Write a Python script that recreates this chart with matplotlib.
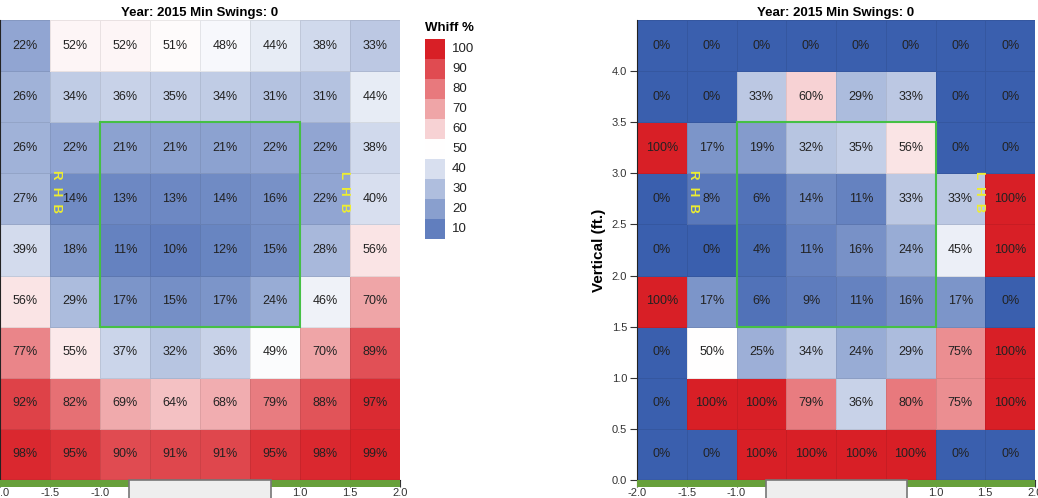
import numpy as np
import matplotlib
matplotlib.use('Agg')
import matplotlib.pyplot as plt
from matplotlib.colors import LinearSegmentedColormap
from matplotlib.patches import Rectangle

plt.rcParams['font.family'] = ['Liberation Sans', 'DejaVu Sans']

# whiff % by zone, rows from top (4.5 ft) to bottom (0 ft), columns from -2 to 2 ft
left_vals = [
    [22, 52, 52, 51, 48, 44, 38, 33],
    [26, 34, 36, 35, 34, 31, 31, 44],
    [26, 22, 21, 21, 21, 22, 22, 38],
    [27, 14, 13, 13, 14, 16, 22, 40],
    [39, 18, 11, 10, 12, 15, 28, 56],
    [56, 29, 17, 15, 17, 24, 46, 70],
    [77, 55, 37, 32, 36, 49, 70, 89],
    [92, 82, 69, 64, 68, 79, 88, 97],
    [98, 95, 90, 91, 91, 95, 98, 99],
]
right_vals = [
    [0, 0, 0, 0, 0, 0, 0, 0],
    [0, 0, 33, 60, 29, 33, 0, 0],
    [100, 17, 19, 32, 35, 56, 0, 0],
    [0, 8, 6, 14, 11, 33, 33, 100],
    [0, 0, 4, 11, 16, 24, 45, 100],
    [100, 17, 6, 9, 11, 16, 17, 0],
    [0, 50, 25, 34, 24, 29, 75, 100],
    [0, 100, 100, 79, 36, 80, 75, 100],
    [0, 0, 100, 100, 100, 100, 0, 0],
]
legend_levels = [100, 90, 80, 70, 60, 50, 40, 30, 20, 10]
title = 'Year: 2015 Min Swings: 0'

cmap = LinearSegmentedColormap.from_list('whiff', ['#3a5fae', '#ffffff', '#d81f26'])
x_edges = np.arange(-2.0, 2.01, 0.5)
y_edges = np.arange(0.0, 4.51, 0.5)

W, H = 1038, 498
fig = plt.figure(figsize=(W / 100, H / 100), dpi=100)


def px_axes(x0, x1, y0, y1):
    return fig.add_axes([x0 / W, 1 - y1 / H, (x1 - x0) / W, (y1 - y0) / H])


def draw_zone(ax, vals):
    z = np.array(vals, dtype=float)[::-1]
    ax.pcolormesh(x_edges, y_edges, z, cmap=cmap, vmin=0, vmax=100,
                  edgecolors=(0, 0, 0, 0.08), linewidth=0.6)
    xc = (x_edges[:-1] + x_edges[1:]) / 2
    yc = (y_edges[:-1] + y_edges[1:]) / 2
    for i, y in enumerate(yc):
        for j, x in enumerate(xc):
            ax.text(x, y, f'{int(z[i, j])}%', ha='center', va='center',
                    fontsize=9, color='#222222')
    # strike zone
    ax.add_patch(Rectangle((-1.0, 1.5), 2.0, 2.0, fill=False,
                           edgecolor='#45c045', linewidth=1.5, zorder=4))
    # batter boxes
    for xp, lab in [(-1.44, 'R  H  B'), (1.44, 'L  H  B')]:
        ax.text(xp, 2.82, lab, rotation=270, ha='center', va='center',
                fontsize=9.5, fontweight='bold', color='#eeee30', zorder=5)
    # ground strip and plate
    ax.add_patch(Rectangle((-2.0, -0.065), 4.0, 0.065, facecolor='#67a03a',
                           edgecolor='none', clip_on=False, zorder=3))
    ax.add_patch(Rectangle((-0.708, -0.6), 1.417, 0.6, facecolor='#eeeeee',
                           edgecolor='#777777', linewidth=1.2, clip_on=False,
                           zorder=6))
    ax.set_xlim(-2, 2)
    ax.set_ylim(0, 4.5)
    ax.set_xticks(np.arange(-2.0, 2.01, 0.5))
    ax.set_xticklabels([f'{v:.1f}' for v in np.arange(-2.0, 2.01, 0.5)])
    ax.set_yticks(np.arange(0.0, 4.01, 0.5))
    ax.set_yticklabels([f'{v:.1f}' for v in np.arange(0.0, 4.01, 0.5)])
    ax.tick_params(labelsize=8, colors='#333333', length=5, pad=2)
    ax.tick_params(axis='x', pad=1)
    for s in ['top', 'right']:
        ax.spines[s].set_visible(False)
    ax.spines['left'].set_color('#222222')
    ax.spines['bottom'].set_color('#222222')
    ax.set_title(title, fontsize=9.5, fontweight='bold', pad=3)


ax1 = px_axes(0, 400, 20, 480)
draw_zone(ax1, left_vals)
ax1.tick_params(axis='y', left=False, labelleft=False)

ax2 = px_axes(637, 1035, 20, 480)
draw_zone(ax2, right_vals)
ax2.set_ylabel('Vertical (ft.)', fontsize=11, fontweight='bold', labelpad=4)

# legend
fig.text(425 / W, 1 - 28 / H, 'Whiff %', fontsize=9.5, fontweight='bold',
         ha='left', va='center')
for k, lev in enumerate(legend_levels):
    y_top = 39 + k * 20
    fig.patches.append(Rectangle((425 / W, 1 - (y_top + 20) / H), 20 / W, 20 / H,
                                 transform=fig.transFigure,
                                 facecolor=cmap(lev / 100), edgecolor='none'))
    fig.text(452 / W, 1 - (y_top + 10) / H, str(lev), fontsize=9.5,
             ha='left', va='center', color='#222222')

fig.savefig('out.png', dpi=100)
